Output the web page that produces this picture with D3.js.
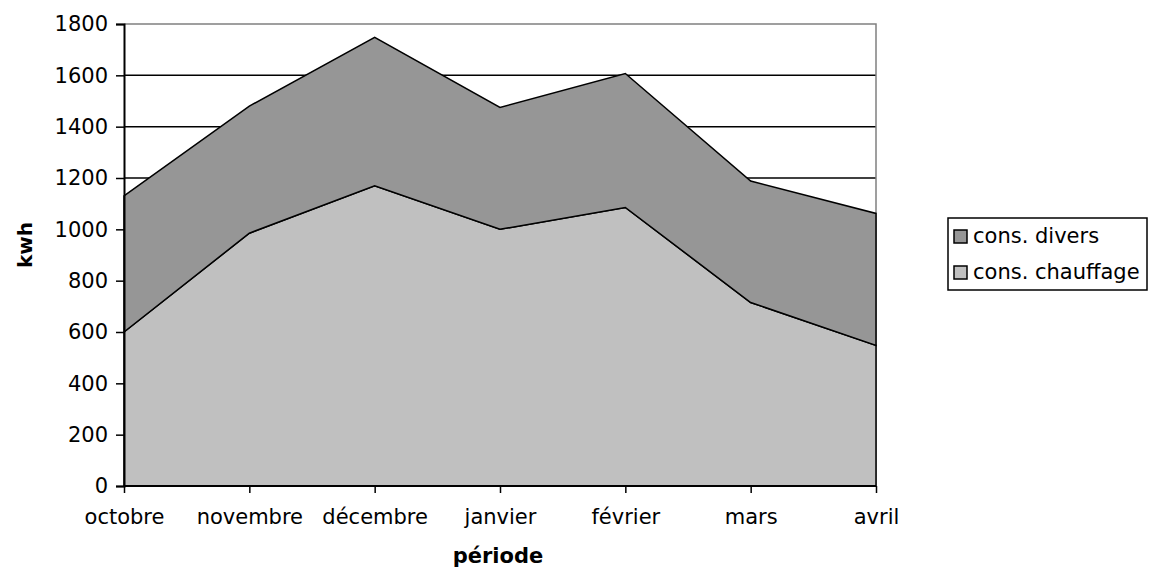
<!DOCTYPE html>
<html>
<head>
<meta charset="utf-8">
<script src="https://cdn.jsdelivr.net/npm/d3@7"></script>
<style>
  html, body { margin: 0; padding: 0; background: #fff; }
  svg { display: block; }
  text { font-family: "DejaVu Sans", sans-serif; fill: #000; }
</style>
</head>
<body>
<svg id="chart" width="1149" height="569"></svg>
<script>
// Monthly consumption (kWh), stacked: heating at the bottom, other uses on top
const categories = ["octobre", "novembre", "décembre", "janvier", "février", "mars", "avril"];
const chauffage = [600, 985, 1170, 1000, 1085, 715, 548];
const divers = [530, 495, 578, 475, 522, 473, 514];
const seriesNames = ["cons. chauffage", "cons. divers"];
const seriesColors = ["#c0c0c0", "#969696"];
const yTicks = [0, 200, 400, 600, 800, 1000, 1200, 1400, 1600, 1800];

const svg = d3.select("#chart");
const plotLeft = 124, plotRight = 876, plotTop = 24, plotBottom = 486;

const x = d3.scalePoint().domain(categories).range([plotLeft, plotRight]);
const y = d3.scaleLinear().domain([0, 1800]).range([plotBottom, plotTop]);

const rows = categories.map((c, i) => ({ cat: c, chauffage: chauffage[i], divers: divers[i] }));
const stack = d3.stack().keys(["chauffage", "divers"]);
const layers = stack(rows);

// Horizontal gridlines
svg.append("g")
  .selectAll("line")
  .data(yTicks.filter(v => v > 0 && v < 1800))
  .join("line")
  .attr("x1", plotLeft).attr("x2", plotRight)
  .attr("y1", d => y(d)).attr("y2", d => y(d))
  .attr("stroke", "#000").attr("stroke-width", 1.5);

// Plot area border (top and right)
svg.append("path")
  .attr("d", `M${plotLeft},${y(1800)}H${plotRight}V${plotBottom}`)
  .attr("fill", "none").attr("stroke", "#808080").attr("stroke-width", 1.5);

// Stacked areas
const area = d3.area()
  .x(d => x(d.data.cat))
  .y0(d => y(d[0]))
  .y1(d => y(d[1]));

svg.append("g")
  .selectAll("path")
  .data(layers)
  .join("path")
  .attr("d", area)
  .attr("fill", (d, i) => seriesColors[i])
  .attr("stroke", "#000")
  .attr("stroke-width", 1.5)
  .attr("stroke-linejoin", "miter");

// Y axis
const yAxis = d3.axisLeft(y).tickValues(yTicks).tickSize(8).tickPadding(8).tickFormat(d3.format("d"));
const gy = svg.append("g").attr("transform", `translate(${plotLeft},0)`).call(yAxis);
gy.select(".domain").attr("stroke", "#000").attr("stroke-width", 2);
gy.selectAll(".tick line").attr("stroke", "#000").attr("stroke-width", 1.5);
gy.selectAll(".tick text").style("font-size", "21px").style("font-family", "DejaVu Sans, sans-serif");

// X axis
const xAxis = d3.axisBottom(x).tickSize(7).tickPadding(16);
const gx = svg.append("g").attr("transform", `translate(0,${plotBottom})`).call(xAxis);
gx.select(".domain").attr("stroke", "#000").attr("stroke-width", 2).attr("d", `M${plotLeft},0H${plotRight}`);
gx.selectAll(".tick line").attr("stroke", "#000").attr("stroke-width", 1.5);
gx.selectAll(".tick text").style("font-size", "21px").style("font-family", "DejaVu Sans, sans-serif");

// Axis titles
svg.append("text")
  .attr("transform", `translate(32,245) rotate(-90)`)
  .attr("text-anchor", "middle")
  .style("font-size", "20px").style("font-weight", "bold")
  .text("kwh");

svg.append("text")
  .attr("x", (plotLeft + plotRight) / 2 - 2).attr("y", 563)
  .attr("text-anchor", "middle")
  .style("font-size", "21px").style("font-weight", "bold")
  .text("période");

// Legend
const legend = svg.append("g");
legend.append("rect")
  .attr("x", 948).attr("y", 218).attr("width", 199).attr("height", 72)
  .attr("fill", "#fff").attr("stroke", "#000").attr("stroke-width", 1.5);

const legendItems = [
  { name: seriesNames[1], color: seriesColors[1] },
  { name: seriesNames[0], color: seriesColors[0] }
];
const li = legend.selectAll("g.item").data(legendItems).join("g")
  .attr("class", "item")
  .attr("transform", (d, i) => `translate(954,${230 + i * 36})`);
li.append("rect")
  .attr("width", 13).attr("height", 13)
  .attr("fill", d => d.color).attr("stroke", "#000").attr("stroke-width", 1.5);
li.append("text")
  .attr("x", 19).attr("y", 13)
  .style("font-size", "21px")
  .text(d => d.name);
</script>
</body>
</html>
